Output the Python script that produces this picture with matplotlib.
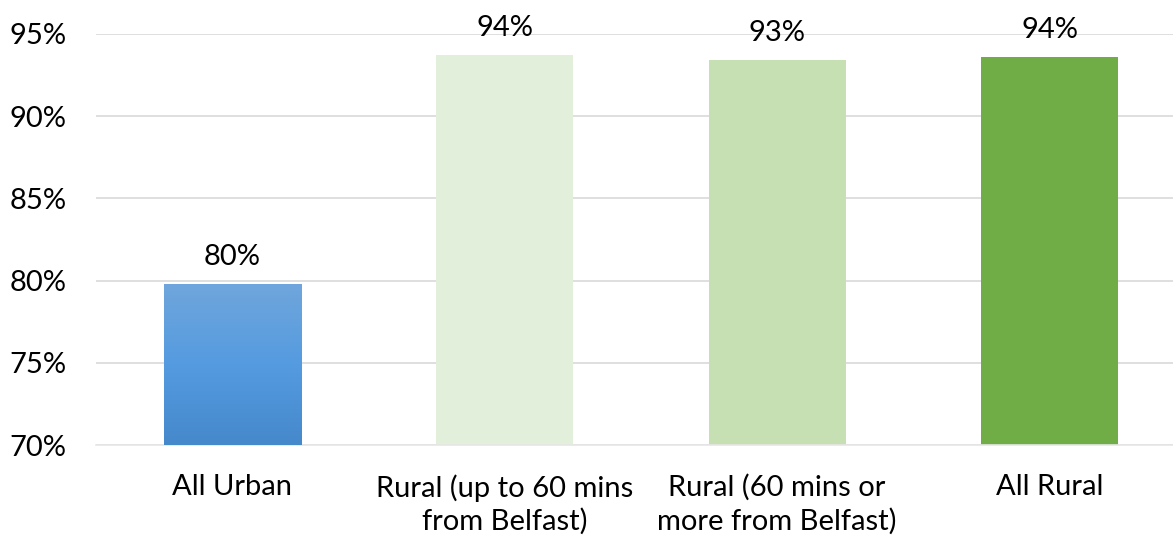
import matplotlib.pyplot as plt
import numpy as np
from matplotlib.colors import LinearSegmentedColormap

# data
categories = ["All Urban", "Rural (up to 60 mins\nfrom Belfast)",
              "Rural (60 mins or\nmore from Belfast)", "All Rural"]
values = [79.8, 93.7, 93.4, 93.6]
labels = ["80%", "94%", "93%", "94%"]
colors = ["#5b9bd5", "#e2efda", "#c6e0b4", "#70ad47"]
yticks = [70, 75, 80, 85, 90, 95]

plt.rcParams['font.family'] = ['Lato', 'DejaVu Sans']

fig = plt.figure(figsize=(11.73, 5.37), dpi=100)
ax = fig.add_axes([96 / 1173, 1 - 445 / 537, 1 - 96 / 1173, (445 - 34) / 537])

x = np.arange(len(categories))
bars = ax.bar(x, [v - 70 for v in values], bottom=70, width=0.503,
              color=colors, zorder=2)

# gradient fill on the urban bar
cmap = LinearSegmentedColormap.from_list("urb", ["#4589cb", "#559be0", "#70a6dc"])
b = bars[0]
grad = np.linspace(0, 1, 256).reshape(-1, 1)
im = ax.imshow(grad, cmap=cmap, origin="lower", aspect="auto",
               extent=[b.get_x(), b.get_x() + b.get_width(), 70, values[0]], zorder=3)
im.set_clip_path(b)

for xi, v, lab in zip(x, values, labels):
    ax.text(xi, v + 0.85, lab, ha="center", va="bottom", fontsize=21, color="#000000")

ax.set_ylim(70, 95)
ax.set_xlim(-0.5, 3.453)
ax.set_yticks(yticks)
ax.set_yticklabels([f"{t}%" for t in yticks], fontsize=21)
ax.set_xticks(x)
ax.set_xticklabels(categories, fontsize=21, linespacing=1.3)
ax.tick_params(axis="both", length=0, colors="#000000")
ax.tick_params(axis="y", pad=21)
ax.tick_params(axis="x", pad=21)

ax.yaxis.grid(True, color="#d9d9d9", linewidth=1.2, zorder=0)
ax.set_axisbelow(True)
for s in ["top", "right", "left"]:
    ax.spines[s].set_visible(False)
ax.spines["bottom"].set_color("#e6e6e6")
ax.spines["bottom"].set_linewidth(1.2)

fig.savefig("out.png", dpi=100)
